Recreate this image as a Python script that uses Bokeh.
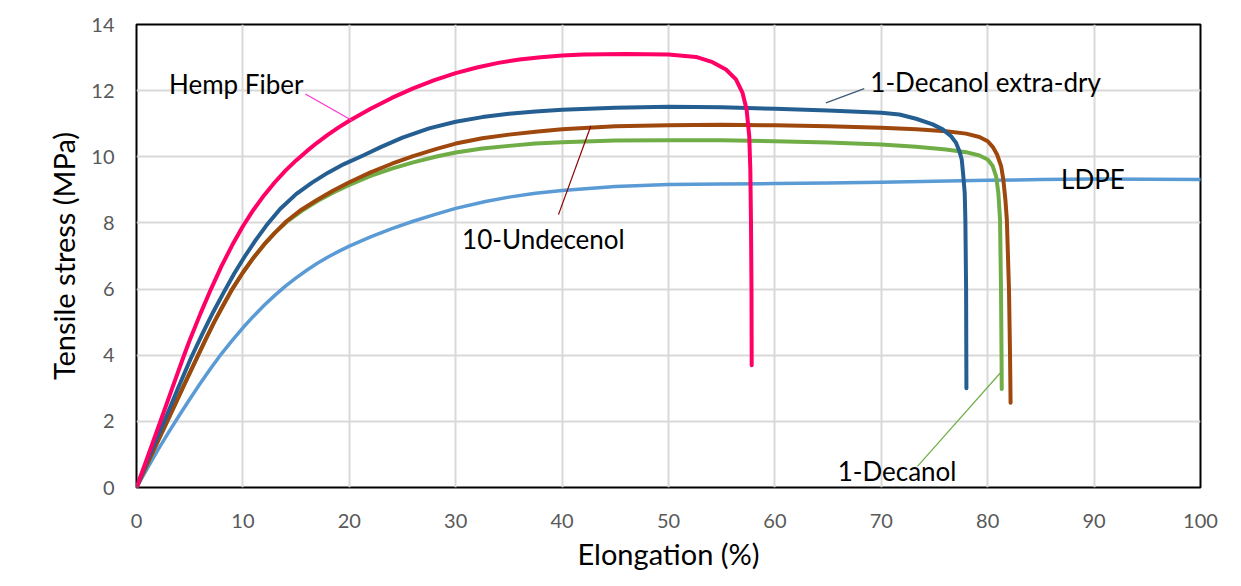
from bokeh.plotting import figure
from bokeh.models import Range1d, Label, FixedTicker
from bokeh.embed import file_html
from bokeh.resources import INLINE

# ---------------- data ----------------
hemp_x = [0, 1, 2.27, 3.3, 4.47, 5, 6, 7, 8, 9, 10, 11, 12, 13, 14, 15, 16, 17, 18, 19, 20, 22, 24,
          26, 28, 30, 32, 34, 36, 38, 40, 42, 44, 46, 48, 50, 52.58, 54.14, 55.4, 56.34, 56.96, 57.34,
          57.59, 57.69, 57.75, 57.8, 57.82]
hemp_y = [0, 0.89, 2.02, 2.95, 4.0, 4.45, 5.25, 6.0, 6.7, 7.33, 7.9, 8.4, 8.84, 9.23, 9.58, 9.89,
          10.17, 10.43, 10.67, 10.89, 11.09, 11.45, 11.78, 12.07, 12.32, 12.53, 12.7, 12.84, 12.94,
          13.01, 13.06, 13.09, 13.1, 13.11, 13.1, 13.09, 13.02, 12.86, 12.64, 12.34, 11.93, 11.43,
          10.62, 9.62, 8.1, 6.0, 3.7]

dry_x = [0, 1, 2, 2.74, 3.9, 5.1, 6.2, 7.2, 8.2, 9.2, 10.2, 11.2, 12.2, 13.5, 15, 16.5, 18, 19.5, 21.3,
         23, 25, 27.5, 30, 32.5, 35, 37.5, 40, 45, 50, 55, 60, 65, 70, 71.7, 73.27, 74.83, 75.77, 76.56,
         77.03, 77.34, 77.56, 77.71, 77.84, 77.9, 77.97, 78.0]
dry_y = [0, 0.8, 1.55, 2.1, 3.0, 3.9, 4.65, 5.3, 5.9, 6.48, 7.0, 7.48, 7.92, 8.42, 8.87, 9.22, 9.52,
         9.78, 10.04, 10.3, 10.58, 10.86, 11.06, 11.2, 11.3, 11.37, 11.42, 11.48, 11.51, 11.5, 11.45,
         11.4, 11.33, 11.28, 11.15, 10.98, 10.83, 10.62, 10.42, 10.17, 9.92, 9.41, 8.91, 8.1, 6.0, 3.0]

und_x = [0, 1.5, 3.06, 4.4, 5.72, 6.5, 7.3, 8.1, 9, 10, 11, 12, 13, 14.1, 15.5, 17, 18.5, 20, 22, 24,
         26, 28.2, 30, 32.5, 35, 37.5, 40, 42.5, 45, 50, 55, 60, 65, 69.98, 73.27, 76.09, 77.97, 79.22,
         80.0, 80.47, 80.88, 81.26, 81.47, 81.66, 81.8, 82.0, 82.1, 82.15]
und_y = [0, 1.05, 2.12, 3.05, 3.95, 4.48, 5.0, 5.48, 6.0, 6.5, 6.95, 7.35, 7.7, 8.05, 8.4, 8.7, 8.98,
         9.23, 9.53, 9.79, 10.02, 10.24, 10.4, 10.56, 10.67, 10.76, 10.83, 10.88, 10.92, 10.95, 10.97,
         10.95, 10.92, 10.88, 10.83, 10.77, 10.7, 10.6, 10.47, 10.3, 10.07, 9.72, 9.31, 8.71, 8.1, 6.0,
         4.0, 2.56]

dec_x = [0, 1.5, 3.06, 4.4, 5.72, 6.5, 7.3, 8.1, 9, 10, 11, 12, 13, 14.1, 15.5, 17, 18.5, 20, 22, 24,
         26, 28.2, 30, 32.5, 35, 37.5, 40, 45, 50, 55, 60, 65, 69.98, 73.27, 76.09, 77.97, 79.22, 80.0,
         80.47, 80.79, 81.0, 81.16, 81.25, 81.3, 81.32]
dec_y = [0, 1.05, 2.12, 3.05, 3.95, 4.48, 5.0, 5.48, 6.0, 6.5, 6.95, 7.35, 7.7, 8.03, 8.36, 8.66, 8.92,
         9.15, 9.42, 9.64, 9.83, 10.01, 10.13, 10.25, 10.33, 10.4, 10.44, 10.49, 10.5, 10.5, 10.47,
         10.43, 10.37, 10.3, 10.22, 10.14, 10.04, 9.92, 9.72, 9.41, 8.91, 8.1, 6.0, 4.0, 2.98]

ldpe_x = [0, 1, 2, 3, 4, 5, 6, 7, 8, 9, 10, 11, 12, 13, 14, 15, 16, 17, 18, 19, 20, 22, 24, 26, 28,
          30, 32.8, 35, 37.5, 40, 45, 50, 55, 60, 65, 70, 75, 80, 85, 90, 95, 100]
ldpe_y = [0, 0.57, 1.13, 1.66, 2.17, 2.67, 3.15, 3.61, 4.05, 4.45, 4.83, 5.18, 5.51, 5.81, 6.09,
          6.34, 6.57, 6.78, 6.97, 7.14, 7.3, 7.58, 7.83, 8.05, 8.25, 8.44, 8.65, 8.78, 8.9, 8.98,
          9.1, 9.16, 9.18, 9.19, 9.21, 9.23, 9.26, 9.29, 9.31, 9.33, 9.32, 9.31]

x_ticks = [0, 10, 20, 30, 40, 50, 60, 70, 80, 90, 100]
y_ticks = [0, 2, 4, 6, 8, 10, 12, 14]

# series labels and their leader lines (data coordinates)
label_texts = ["Hemp Fiber", "1-Decanol extra-dry", "LDPE", "10-Undecenol", "1-Decanol"]
label_x = [3.06, 68.97, 86.9, 30.6, 65.9]
label_y = [12.19, 12.25, 9.33, 7.5, 0.49]
leader_x0 = [15.87, 64.8, 39.66, 73.4]
leader_y0 = [11.9, 11.63, 8.25, 0.64]
leader_x1 = [20.26, 68.4, 42.7, 81.2]
leader_y1 = [11.1, 12.06, 10.93, 3.47]
leader_colors = ["#FF33CC", "#3B5875", "#8B0000", "#70AD47"]

FONT = "Lato"

p = figure(width=1232, height=577, output_backend="svg", toolbar_location=None,
           x_range=Range1d(0, 100), y_range=Range1d(0, 14),
           min_border_left=136, min_border_top=24, min_border_right=32, min_border_bottom=90)

p.outline_line_color = "black"
p.outline_line_width = 2
p.background_fill_color = "white"
p.border_fill_color = "white"

p.xgrid.ticker = FixedTicker(ticks=x_ticks)
p.ygrid.ticker = FixedTicker(ticks=y_ticks)
for g in (p.xgrid, p.ygrid):
    g.grid_line_color = "#d9d9d9"
    g.grid_line_width = 2

p.xaxis.ticker = FixedTicker(ticks=x_ticks)
p.yaxis.ticker = FixedTicker(ticks=y_ticks)
for ax in (p.xaxis, p.yaxis):
    ax.axis_line_color = None
    ax.major_tick_line_color = None
    ax.minor_tick_line_color = None
    ax.major_tick_out = 0
    ax.major_tick_in = 0
    ax.major_label_text_font = FONT
    ax.major_label_text_font_size = "20px"
    ax.major_label_text_color = "#595959"
    ax.axis_label_text_font = FONT
    ax.axis_label_text_font_size = "29px"
    ax.axis_label_text_font_style = "normal"
    ax.axis_label_text_color = "black"

p.xaxis.axis_label = "Elongation (%)"
p.yaxis.axis_label = "Tensile stress (MPa)"
p.xaxis.major_label_standoff = 26
p.yaxis.major_label_standoff = 22
p.xaxis.axis_label_standoff = 5
p.yaxis.axis_label_standoff = 7

LW = 4
p.line(ldpe_x, ldpe_y, line_color="#5B9BD5", line_width=3.5, line_cap="round", line_join="round")
p.line(dec_x, dec_y, line_color="#70AD47", line_width=LW, line_cap="round", line_join="round")
p.line(und_x, und_y, line_color="#9E480E", line_width=LW, line_cap="round", line_join="round")
p.line(dry_x, dry_y, line_color="#255E91", line_width=LW, line_cap="round", line_join="round")
p.line(hemp_x, hemp_y, line_color="#FF0066", line_width=LW, line_cap="round", line_join="round")

p.segment(x0=leader_x0, y0=leader_y0, x1=leader_x1, y1=leader_y1,
          line_color=leader_colors, line_width=1.2)

for t, lx, ly in zip(label_texts, label_x, label_y):
    p.add_layout(Label(x=lx, y=ly, text=t, text_font=FONT, text_font_size="26px",
                       text_color="black", text_baseline="middle", text_align="left"))

open("out.html", "w").write(file_html(p, INLINE))
